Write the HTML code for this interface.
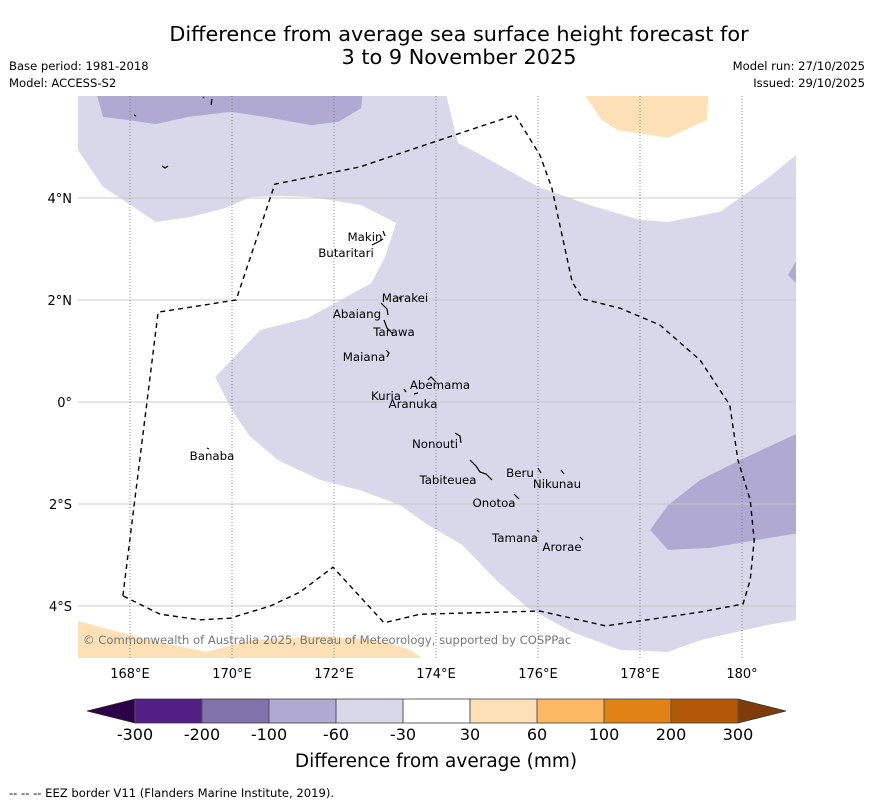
<!DOCTYPE html>
<html><head><meta charset="utf-8"><style>
body{margin:0;background:#fff;}
svg{display:block;font-family:"DejaVu Sans","Liberation Sans",sans-serif;}
</style></head><body>
<svg id="chart" width="873" height="804" viewBox="0 0 873 804" xmlns="http://www.w3.org/2000/svg">
<text x="459" y="41" font-size="20.8" text-anchor="middle">Difference from average sea surface height forecast for</text>
<text x="459" y="64" font-size="20.8" text-anchor="middle">3 to 9 November 2025</text>
<text x="9" y="70" font-size="11.6">Base period: 1981-2018</text>
<text x="9" y="87" font-size="11.6">Model: ACCESS-S2</text>
<text x="865" y="70" font-size="11.6" text-anchor="end">Model run: 27/10/2025</text>
<text x="865" y="87" font-size="11.6" text-anchor="end">Issued: 29/10/2025</text>
<defs><clipPath id="mapclip"><rect x="78" y="96" width="718" height="562"/></clipPath></defs>
<g id="map" clip-path="url(#mapclip)">
<rect x="78" y="96" width="718" height="562" fill="#d8d8ea"/>
</g>
<g id="grid"></g>
<g id="overlay" clip-path="url(#mapclip)"></g>
<text x="83" y="644" font-size="11.6" fill="#777">© Commonwealth of Australia 2025, Bureau of Meteorology, supported by COSPPac</text>
<g id="axes"></g>
<g id="cbar"></g>
<text x="436" y="767" font-size="18.5" text-anchor="middle">Difference from average (mm)</text>
<text x="9" y="797" font-size="11.6">--  --  -- EEZ border V11 (Flanders Marine Institute, 2019).</text>
</svg>
<script>
const lonTicks=[168,170,172,174,176,178,180];
const lonTickLabels=["168°E","170°E","172°E","174°E","176°E","178°E","180°"];
const latTicks=[4,2,0,-2,-4];
const latTickLabels=["4°N","2°N","0°","2°S","4°S"];
const whiteWest=[[166.98,4.94],[167.47,4.22],[168.51,3.53],[169.2,3.63],[169.86,3.8],[170.37,4.02],[170.96,4.04],[171.55,4.02],[172.53,3.86],[173.22,3.51],[173.0,2.84],[172.73,2.33],[172.02,1.94],[171.49,1.65],[170.55,1.41],[169.67,0.49],[170.0,-0.16],[170.35,-0.67],[170.9,-1.14],[171.73,-1.53],[172.51,-1.73],[173.29,-2.02],[173.84,-2.41],[174.51,-2.8],[175.22,-3.53],[175.8,-4.04],[176.67,-4.51],[177.61,-4.86],[178.55,-4.9],[179.18,-4.67],[180.51,-4.37],[181.1,-4.27],[181.1,-5.1],[166.9,-5.1],[166.9,4.94]];
const whiteNorthEast=[[174.18,6.1],[174.43,5.08],[174.82,4.88],[176.0,4.22],[177.02,3.86],[178.0,3.57],[178.55,3.53],[179.57,3.73],[180.51,4.39],[181.1,4.88],[181.1,6.1]];
const orangeNorthEast=[[176.86,6.1],[177.25,5.53],[177.57,5.33],[178.55,5.18],[179.31,5.53],[179.35,6.1]];
const orangeSouthWest=[[166.9,-4.27],[168.39,-4.67],[169.49,-4.9],[170.35,-4.67],[171.73,-4.59],[172.9,-4.67],[173.49,-4.86],[173.84,-5.1],[166.9,-5.1]];
const purpleNorthWest=[[167.33,6.1],[167.47,5.59],[167.96,5.53],[168.51,5.45],[169.14,5.59],[169.98,5.69],[170.65,5.59],[171.55,5.43],[172.08,5.49],[172.53,5.76],[172.57,6.1]];
const purpleSouthEast=[[178.2,-2.51],[178.55,-2.9],[179.37,-2.86],[181.1,-2.57],[181.1,-0.61],[179.96,-1.14],[179.18,-1.53],[178.55,-2.02]];
const purpleEastEdge=[[181.1,2.82],[180.9,2.49],[181.1,2.29]];
const eezBorder=[[167.86,-3.8],[168.55,1.76],[170.08,2.0],[170.84,4.27],[172.51,4.61],[174.08,5.14],[175.55,5.63],[176.04,4.84],[176.27,4.2],[176.67,2.35],[176.88,2.02],[177.61,1.84],[178.39,1.51],[179.18,0.82],[179.76,-0.06],[179.92,-1.14],[180.16,-1.92],[180.24,-2.71],[180.16,-3.49],[180.02,-3.96],[179.18,-4.12],[177.33,-4.39],[176.04,-4.1],[173.69,-4.16],[172.98,-4.33],[171.98,-3.24],[171.33,-3.73],[170.75,-4.0],[169.96,-4.24],[169.37,-4.27],[168.59,-4.16],[167.86,-3.8]];
const cbLevels=["-300","-200","-100","-60","-30","30","60","100","200","300"];
const cbColors=["#531f85","#8073ac","#b0a9d1","#d8d8ea","#ffffff","#fee0b6","#fdb863","#e08214","#b35806"];
const cbUnder="#2d004b", cbOver="#7f3b08";

const NS="http://www.w3.org/2000/svg";
const X=lon=>79+(lon-167)*51;
const Y=lat=>402-lat*51;
function mk(tag,attrs,parent){const e=document.createElementNS(NS,tag);for(const k in attrs)e.setAttribute(k,attrs[k]);parent.appendChild(e);return e;}
function pts(arr){return arr.map(p=>X(p[0]).toFixed(1)+","+Y(p[1]).toFixed(1)).join(" ");}
const map=document.getElementById('map');
function poly(arr,fill,name){const e=mk('polygon',{points:pts(arr),fill:fill},map);

}
poly(purpleNorthWest,"#b0a9d1","contour-purple-northwest");
poly(whiteWest,"#ffffff","contour-white-west");
poly(whiteNorthEast,"#ffffff","contour-white-northeast");
poly(orangeNorthEast,"#fee0b6","contour-orange-northeast");
poly(orangeSouthWest,"#fee0b6","contour-orange-southwest");
poly(purpleSouthEast,"#b0a9d1","contour-purple-southeast");
poly(purpleEastEdge,"#b0a9d1","contour-purple-east-edge");

const grid=document.getElementById('grid');
latTicks.forEach(t=>{const l=mk('line',{x1:78,x2:796,y1:Y(t),y2:Y(t),stroke:"#c8c8c8","stroke-width":1},grid);

});
lonTicks.forEach(t=>{const l=mk('line',{x1:X(t),x2:X(t),y1:96,y2:658,stroke:"#777","stroke-width":0.8,"stroke-dasharray":"1,2"},grid);

});

const ov=document.getElementById('overlay');
const eez=mk('polyline',{points:pts(eezBorder),fill:"none",stroke:"#000","stroke-width":1.4,"stroke-dasharray":"5,4"},ov);


const islandMarks=["M383,231 L385,236","M372,245 L378,242 L383,239","M399,297 L401,300","M381,303 L387,309 L388,315","M384,320 L387,328 L393,334","M386,350 L389,353 L387,357","M428,380 L431,377 L436,382","M404,389 L406,392","M414,394 L418,393","M207,448 L209,449","M455,433 L460,436 L461,443","M470,460 L476,466 L480,472 L486,474 L492,480","M538,468 L541,473","M561,470 L564,474","M514,494 L519,499","M537,530 L539,532","M580,537 L583,540","M134,115 L136,116","M162,166 L165,168 L168,166","M203,97 L204,98","M212,99 L211,105"];
islandMarks.forEach(d=>{const p=mk('path',{d:d,fill:"none",stroke:"#000","stroke-width":1.2},ov);

});
const islandLabels=[["Makin",365,241],["Butaritari",346,257],["Marakei",405,302],["Abaiang",357,318],["Tarawa",394,336],["Maiana",364,361],["Abemama",440,389],["Kuria",386,400],["Aranuka",413,408],["Banaba",212,460],["Nonouti",435,448],["Beru",520,477],["Nikunau",557,488],["Tabiteuea",448,484],["Onotoa",494,507],["Tamana",515,542],["Arorae",562,551]];
islandLabels.forEach(a=>{const t=mk('text',{x:a[1],y:a[2],"font-size":11.8,"text-anchor":"middle"},ov);t.textContent=a[0];

});

const axes=document.getElementById('axes');
lonTicks.forEach((t,i)=>{const e=mk('text',{x:X(t),y:678,"font-size":13,"text-anchor":"middle"},axes);e.textContent=lonTickLabels[i];

});
latTicks.forEach((t,i)=>{const e=mk('text',{x:72,y:Y(t)+5,"font-size":13,"text-anchor":"end"},axes);e.textContent=latTickLabels[i];

});

const cb=document.getElementById('cbar');
const cx0=135,cw=(738-135)/(cbLevels.length-1),cy=699,ch=24;
const u=mk('polygon',{points:`${cx0},${cy} ${cx0},${cy+ch} 87,${cy+ch/2}`,fill:cbUnder},cb);


const o=mk('polygon',{points:`738,${cy} 738,${cy+ch} 786,${cy+ch/2}`,fill:cbOver},cb);


cbColors.forEach((c,i)=>{const r=mk('rect',{x:cx0+i*cw,y:cy,width:cw,height:ch,fill:c},cb);

});
cbLevels.forEach((v,i)=>{const x=cx0+i*cw;
const l=mk('line',{x1:x,x2:x,y1:cy,y2:cy+ch,stroke:"#555","stroke-width":1},cb);


const t=mk('text',{x:x,y:740,"font-size":16,"text-anchor":"middle"},cb);t.textContent=v;

});
const ob=mk('polygon',{points:`${cx0},${cy} 87,${cy+ch/2} ${cx0},${cy+ch} 738,${cy+ch} 786,${cy+ch/2} 738,${cy}`,fill:"none",stroke:"#333","stroke-width":0.8},cb);


</script>
</body></html>
